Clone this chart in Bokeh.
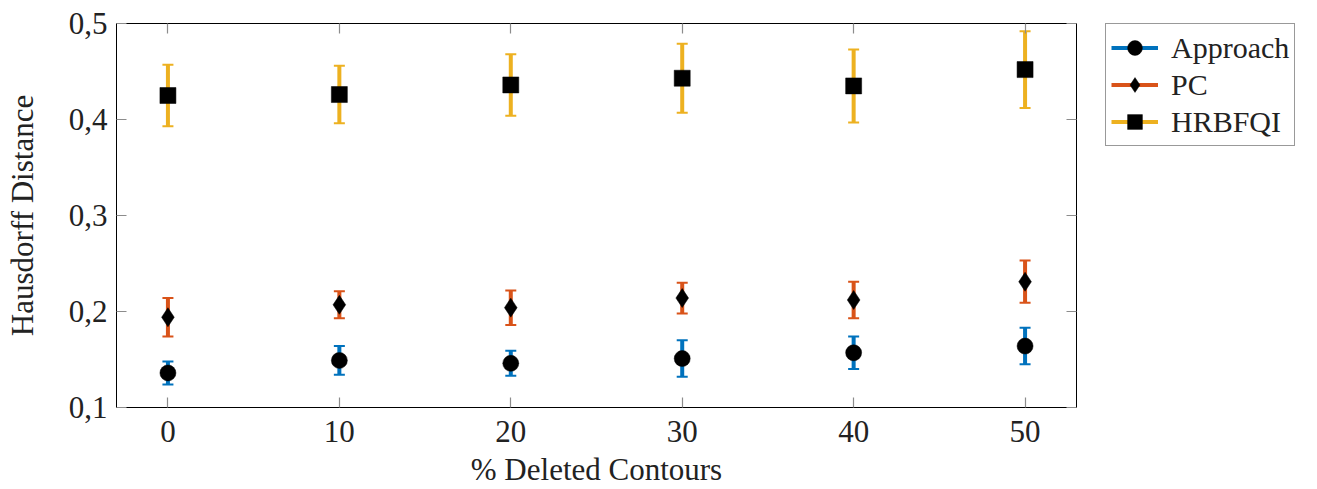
from bokeh.plotting import figure
from bokeh.layouts import row
from bokeh.models import (Range1d, FixedTicker, LinearAxis, Legend, LegendItem,
                          CustomJSTickFormatter, ColumnDataSource)
from bokeh.embed import file_html
from bokeh.resources import INLINE

deleted = [0, 10, 20, 30, 40, 50]
approach_mean = [0.136, 0.149, 0.146, 0.151, 0.157, 0.164]
approach_err = [0.012, 0.015, 0.013, 0.019, 0.017, 0.019]
pc_mean = [0.194, 0.207, 0.204, 0.214, 0.212, 0.231]
pc_err = [0.020, 0.014, 0.018, 0.016, 0.019, 0.022]
hrbfqi_mean = [0.425, 0.426, 0.436, 0.443, 0.435, 0.452]
hrbfqi_err = [0.032, 0.030, 0.032, 0.036, 0.038, 0.040]

x_ticks = [0, 10, 20, 30, 40, 50]
y_ticks = [0.1, 0.2, 0.3, 0.4, 0.5]

series = [
    ("Approach", approach_mean, approach_err, "#0072BD", "circle", 16),
    ("PC", pc_mean, pc_err, "#D95319", "diamond", 19),
    ("HRBFQI", hrbfqi_mean, hrbfqi_err, "#EDB120", "square", 16),
]

FONT = "Liberation Serif"
FS = "31px"
H = 489

p = figure(width=1096, height=H, output_backend="svg", toolbar_location=None,
           x_range=Range1d(-3, 53), y_range=Range1d(0.1, 0.5),
           min_border_left=116, min_border_right=20, min_border_top=23,
           min_border_bottom=H - 407)
p.grid.visible = False
p.outline_line_color = "black"
p.outline_line_width = 1
p.background_fill_color = "white"
p.border_fill_color = "white"

fmt = CustomJSTickFormatter(code="return tick.toFixed(1).replace('.', ',');")
blank = CustomJSTickFormatter(code="return '';")

def style_axis(ax, labels=True):
    ax.axis_line_color = None
    ax.major_tick_in = 10
    ax.major_tick_out = 0
    ax.minor_tick_line_color = None
    ax.major_tick_line_color = "#8c8c8c"
    ax.major_tick_line_width = 1.2
    ax.major_label_text_font = FONT
    ax.major_label_text_font_size = FS if labels else "1px"
    ax.axis_label_text_font = FONT
    ax.axis_label_text_font_size = FS
    ax.axis_label_text_font_style = "normal"
    ax.axis_label_text_color = "#222222"
    ax.major_label_text_color = "#222222"

p.xaxis.ticker = FixedTicker(ticks=x_ticks)
p.yaxis.ticker = FixedTicker(ticks=y_ticks)
p.yaxis.formatter = fmt
p.xaxis.axis_label = "% Deleted Contours"
p.yaxis.axis_label = "Hausdorff Distance"
style_axis(p.xaxis[0])
style_axis(p.yaxis[0])
p.xaxis.major_label_standoff = 13
p.xaxis.axis_label_standoff = 7
p.yaxis.major_label_standoff = 9
p.yaxis.axis_label_standoff = 26

top = LinearAxis(ticker=FixedTicker(ticks=x_ticks), formatter=blank)
style_axis(top, labels=False)
top.major_label_standoff = 0
p.add_layout(top, "above")
right = LinearAxis(ticker=FixedTicker(ticks=y_ticks), formatter=blank)
style_axis(right, labels=False)
right.major_label_standoff = 0
p.add_layout(right, "right")

# legend lives in a small companion figure to the right (its ranges show no data)
pl = figure(width=1315 - 1096, height=H, output_backend="svg", toolbar_location=None,
            x_range=Range1d(1000, 1001), y_range=Range1d(1000, 1001),
            x_axis_location=None, y_axis_location=None,
            min_border_left=9, min_border_right=0, min_border_top=23,
            min_border_bottom=H - 407)
pl.grid.visible = False
pl.outline_line_color = None

items = []
for name, mean, err, color, marker, size in series:
    lo = [m - e for m, e in zip(mean, err)]
    hi = [m + e for m, e in zip(mean, err)]
    src = ColumnDataSource(dict(x=deleted, y=mean, lo=lo, hi=hi))
    p.segment(x0="x", y0="lo", x1="x", y1="hi", source=src,
              line_color=color, line_width=4)
    p.scatter(x="x", y="lo", source=src, marker="dash", size=11,
              line_color=color, line_width=2)
    p.scatter(x="x", y="hi", source=src, marker="dash", size=11,
              line_color=color, line_width=2)
    p.scatter(x="x", y="y", source=src, marker=marker, size=size,
              fill_color="black", line_color="black", line_width=0.5)
    lseg = pl.segment(x0="x", y0="lo", x1="x", y1="hi", source=src,
                      line_color=color, line_width=4)
    lmk = pl.scatter(x="x", y="y", source=src, marker=marker, size=size,
                     fill_color="black", line_color="black", line_width=0.5)
    items.append(LegendItem(label=name, renderers=[lseg, lmk]))

legend = Legend(items=items, location="top_left")
legend.label_text_font = FONT
legend.label_text_font_size = "30px"
legend.label_text_color = "#222222"
legend.glyph_width = 47
legend.glyph_height = 37
legend.label_height = 37
legend.spacing = 0
legend.padding = 5
legend.label_standoff = 13
legend.border_line_color = "#333333"
legend.border_line_width = 1
legend.background_fill_color = "white"
legend.background_fill_alpha = 1
legend.margin = 0
pl.add_layout(legend, "center")

layout = row(p, pl, spacing=0)
open("out.html", "w").write(file_html(layout, INLINE))
